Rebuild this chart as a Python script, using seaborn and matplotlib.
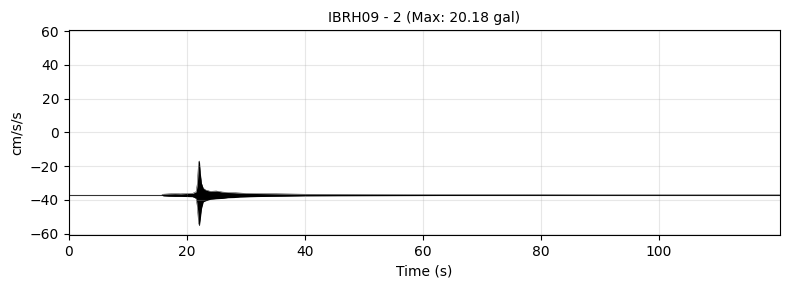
import numpy as np
import pandas as pd
import matplotlib
matplotlib.use("Agg")
import matplotlib.pyplot as plt
import seaborn as sns

title = "IBRH09 - 2 (Max: 20.18 gal)"
baseline = -37.1
# envelope: time (s), upper and lower offsets from baseline (cm/s/s)
env_time = [15.8, 16.0, 17.0, 18.0, 19.0, 20.0, 21.0, 21.6, 21.8, 22.0, 22.15, 22.3, 22.5,
            22.8, 23.2, 24.0, 25.0, 26.0, 27.0, 28.0, 29.0, 30.0, 32.0, 34.0, 36.0, 38.0,
            40.0, 45.0, 50.0, 55.0, 60.0, 65.0, 70.0, 80.0, 90.0, 120.5]
env_upper = [0.0, 0.5, 0.7, 0.8, 0.7, 0.9, 1.0, 2.0, 7.0, 19.5, 20.18, 13.0, 7.0,
             4.0, 3.0, 2.2, 2.4, 1.8, 1.5, 1.4, 1.2, 1.0, 0.9, 0.8, 0.7, 0.6,
             0.5, 0.45, 0.4, 0.35, 0.3, 0.25, 0.2, 0.15, 0.1, 0.05]
env_lower = [0.0, -0.5, -0.7, -0.8, -0.8, -0.9, -1.0, -2.0, -7.0, -16.5, -18.2, -14.0, -8.0,
             -4.0, -3.4, -2.5, -2.2, -2.0, -1.6, -1.5, -1.2, -1.1, -0.9, -0.8, -0.7, -0.6,
             -0.5, -0.45, -0.4, -0.35, -0.3, -0.25, -0.2, -0.15, -0.1, -0.05]

plt.rcParams['font.family'] = ['DejaVu Sans']

df = pd.DataFrame({"t": env_time,
                   "hi": np.array(env_upper) + baseline,
                   "lo": np.array(env_lower) + baseline})

fig, ax = plt.subplots(figsize=(7.9, 2.9), dpi=100)
fig.subplots_adjust(left=0.087, right=0.987, top=0.897, bottom=0.19)

ax.fill_between(df["t"], df["lo"], df["hi"], color="black", lw=0)
sns.lineplot(data=df, x="t", y="hi", ax=ax, color="black", lw=0.3)
sns.lineplot(data=df, x="t", y="lo", ax=ax, color="black", lw=0.3)
ax.axhline(baseline, color="black", lw=0.8, alpha=0.8)

ax.set_xlim(0, 120.5)
ax.set_ylim(-60.7, 60.7)
ax.set_xticks([0, 20, 40, 60, 80, 100])
ax.set_yticks([-60, -40, -20, 0, 20, 40, 60])
ax.grid(True, alpha=0.3)
ax.set_xlabel("Time (s)")
ax.set_ylabel("cm/s/s")
ax.set_title(title, fontsize=10)

fig.savefig("out.png", dpi=100)
